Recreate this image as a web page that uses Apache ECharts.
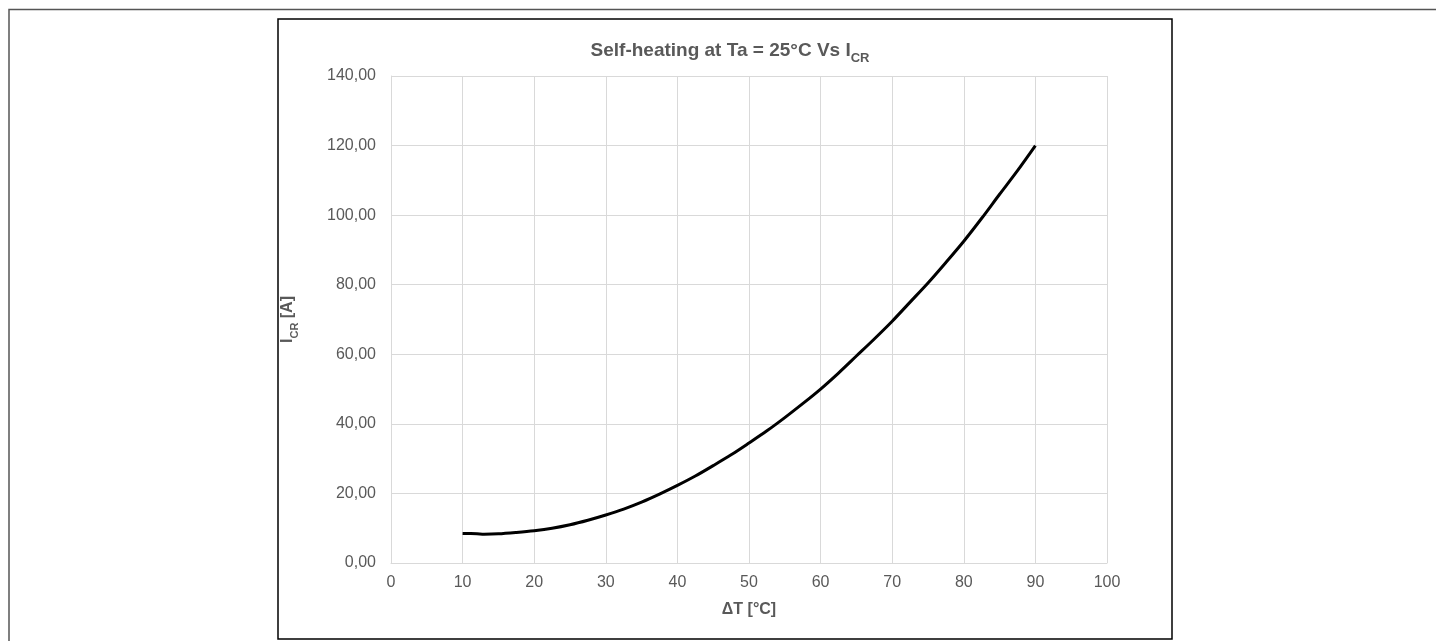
<!DOCTYPE html>
<html>
<head>
<meta charset="utf-8">
<script src="https://cdn.jsdelivr.net/npm/echarts@6/dist/echarts.min.js"></script>
<style>
html,body{margin:0;padding:0;background:#fff;}
#chart{width:1436px;height:641px;}
</style>
</head>
<body>
<div id="chart"></div>
<script>
var deltaT = [10, 12, 13, 15, 17.5, 20, 22.5, 25, 27.5, 30, 32.5, 35, 37.5, 40, 42.5, 45, 47.5, 50, 52.5, 55, 57.5, 60, 62.5, 65, 67.5, 70, 72.5, 75, 77.5, 80, 82.5, 85, 87.5, 90];
var icr = [8.5, 8.4, 8.3, 8.4, 8.8, 9.3, 10.0, 11.0, 12.3, 13.8, 15.5, 17.5, 19.8, 22.3, 25.0, 28.0, 31.1, 34.5, 38.0, 41.8, 45.8, 50.0, 54.6, 59.5, 64.4, 69.5, 75.0, 80.5, 86.4, 92.5, 99.1, 106.0, 112.8, 120.0];
var xTicks = {min: 0, max: 100, interval: 10};
var yTicks = {min: 0, max: 140, interval: 20};

var seriesData = deltaT.map(function (x, i) { return [x, icr[i]]; });
var gray = '#595959';
var font = '"Liberation Sans", Arial, sans-serif';

var chart = echarts.init(document.getElementById('chart'), null, {renderer: 'canvas'});
chart.setOption({
  animation: false,
  backgroundColor: '#ffffff',
  title: {
    text: '{a|Self-heating at Ta = 25°C Vs I}{b|CR}',
    left: 725,
    textAlign: 'center',
    top: 33,
    textStyle: {
      rich: {
        a: {fontFamily: font, fontSize: 19, fontWeight: 'bold', color: gray, verticalAlign: 'bottom', lineHeight: 22},
        b: {fontFamily: font, fontSize: 13, fontWeight: 'bold', color: gray, verticalAlign: 'bottom', lineHeight: 22, padding: [0, 0, -5, 0]}
      }
    }
  },
  graphic: [
    {type: 'polyline', shape: {points: [[9, 641], [9, 9.5], [1436, 9.5]]}, style: {stroke: '#555555', lineWidth: 1.5, fill: null}, silent: true},
    {type: 'rect', shape: {x: 278, y: 19, width: 894, height: 620}, style: {stroke: '#000000', lineWidth: 1.5, fill: null}, silent: true}
  ],
  grid: {left: 391, right: 329, top: 76, bottom: 78, containLabel: false},
  xAxis: {
    type: 'value',
    min: xTicks.min, max: xTicks.max, interval: xTicks.interval,
    name: 'ΔT [°C]',
    nameLocation: 'middle',
    nameGap: 39,
    nameTextStyle: {fontFamily: font, fontSize: 16, fontWeight: 'bold', color: gray},
    axisLine: {show: true, lineStyle: {color: '#d9d9d9', width: 1}},
    axisTick: {show: false},
    axisLabel: {fontFamily: font, fontSize: 16, color: gray, margin: 12},
    splitLine: {show: true, lineStyle: {color: '#d9d9d9', width: 1}}
  },
  yAxis: {
    type: 'value',
    min: yTicks.min, max: yTicks.max, interval: yTicks.interval,
    name: '{a|I}{b|CR}{a| [A]}',
    nameLocation: 'middle',
    nameGap: 95,
    nameRotate: 90,
    nameTextStyle: {
      rich: {
        a: {fontFamily: font, fontSize: 16, fontWeight: 'bold', color: gray, verticalAlign: 'bottom', lineHeight: 19},
        b: {fontFamily: font, fontSize: 11, fontWeight: 'bold', color: gray, verticalAlign: 'bottom', lineHeight: 19, padding: [0, 0, -4, 0]}
      }
    },
    axisLine: {show: true, lineStyle: {color: '#d9d9d9', width: 1}},
    axisTick: {show: false},
    axisLabel: {
      fontFamily: font, fontSize: 16, color: gray, margin: 15,
      formatter: function (v) { return v.toFixed(2).replace('.', ','); }
    },
    splitLine: {show: true, lineStyle: {color: '#d9d9d9', width: 1}}
  },
  series: [{
    type: 'line',
    data: seriesData,
    smooth: 0.3,
    showSymbol: false,
    lineStyle: {color: '#000000', width: 3}
  }]
});
</script>
</body>
</html>
